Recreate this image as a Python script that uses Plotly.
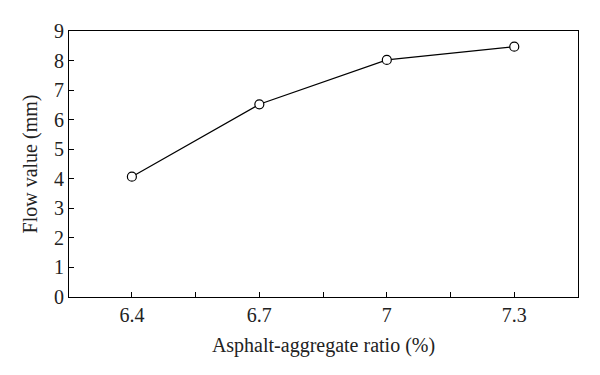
import plotly.graph_objects as go

ratio = [6.4, 6.7, 7.0, 7.3]
flow = [4.07, 6.52, 8.02, 8.47]
x_tickvals = [6.4, 6.55, 6.7, 6.85, 7.0, 7.15, 7.3]
x_ticktext = ["6.4", "", "6.7", "", "7", "", "7.3"]
y_tickvals = [0, 1, 2, 3, 4, 5, 6, 7, 8, 9]

fig = go.Figure(go.Scatter(
    x=ratio, y=flow, mode="lines+markers",
    line=dict(color="black", width=1.2),
    marker=dict(symbol="circle", size=9, color="white", line=dict(color="black", width=1.2)),
))

font = dict(family="Liberation Serif, Times New Roman, serif", size=17, color="#222")
tickfont = dict(family="Liberation Serif, Times New Roman, serif", size=20, color="#222")
fig.update_layout(
    width=592, height=367,
    margin=dict(l=61, r=22, t=21, b=78),
    paper_bgcolor="white", plot_bgcolor="white",
    showlegend=False, font=font,
    xaxis=dict(range=[6.252, 7.45], tickvals=x_tickvals, ticktext=x_ticktext,
               ticks="inside", ticklen=5, tickcolor="black", tickwidth=1,
               showline=True, linecolor="black", linewidth=1.2, mirror=True,
               showgrid=False, zeroline=False, tickfont=tickfont,
               title=dict(text="Asphalt-aggregate ratio (%)", standoff=12)),
    yaxis=dict(range=[0, 9], tickvals=y_tickvals,
               ticks="inside", ticklen=5, tickcolor="black", tickwidth=1,
               showline=True, linecolor="black", linewidth=1.2, mirror=True,
               showgrid=False, zeroline=False, tickfont=tickfont,
               title=dict(text="Flow value (mm)", standoff=10)),
)
fig.write_html("out.html")
